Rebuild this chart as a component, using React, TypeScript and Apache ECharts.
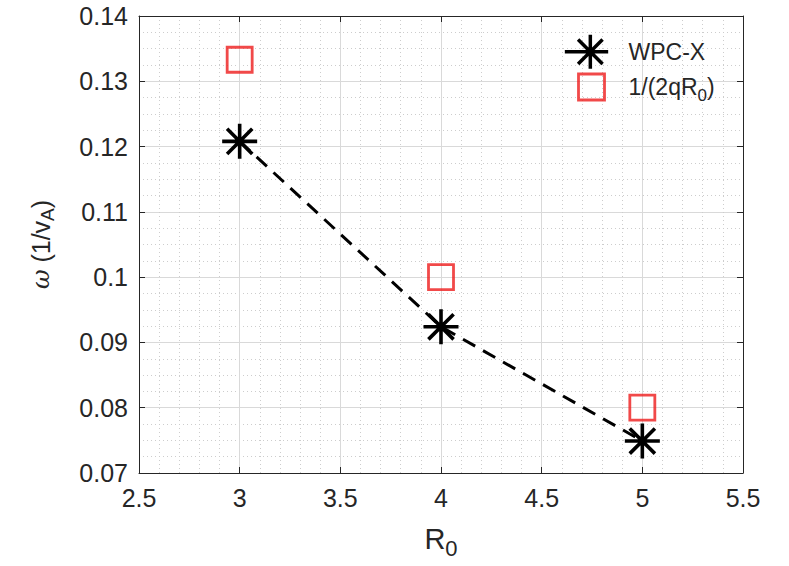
import React, { useEffect, useRef } from "react";
import * as echarts from "echarts";

const rValues = [3, 4, 5];
const wpcX = [0.1208, 0.0924, 0.0749];
const estimate = [0.1333, 0.1, 0.08];
const xTicks = [2.5, 5.5, 0.5];
const yTicks = [0.07, 0.14, 0.01];

const ASTER = "path://M0 -1 L0 1 M-1 0 L1 0 M-0.72 -0.72 L0.72 0.72 M-0.72 0.72 L0.72 -0.72";
const LEG_ASTER = "path://M-1.5 0 L1.05 0 M0 -1 L0 1 M-0.72 -0.72 L0.72 0.72 M-0.72 0.72 L0.72 -0.72";
const LEG_SQ = "path://M-28 -17 M18 17 M-13 -13 L13 -13 L13 13 L-13 13 Z";

const FONT = "'Liberation Sans', Arial, Helvetica, sans-serif";
const AX = "#262626";
const MAJ = "#d9d9d9";
const MIN = "#cdcdcd";

export default function App() {
  const ref = useRef<HTMLDivElement>(null);
  useEffect(() => {
    document.body.style.margin = "0";
    const chart = echarts.init(ref.current!, null, { renderer: "svg" });
    const axCommon = {
      axisLine: { show: true, onZero: false, lineStyle: { color: AX, width: 1 } },
      axisTick: { show: true, inside: true, length: 6, lineStyle: { color: AX } },
      minorSplitLine: { show: true, lineStyle: { color: MIN, type: [1, 3], width: 1 } },
      splitLine: { show: true, lineStyle: { color: MAJ, width: 1 } },
    };
    chart.setOption({
      animation: false,
      backgroundColor: "#fff",
      grid: { left: 139, right: 46, top: 16, bottom: 93, containLabel: false },
      legend: {
        left: 556,
        top: 28,
        orient: "vertical",
        itemWidth: 46,
        itemHeight: 34,
        itemGap: -3,
        textStyle: {
          fontFamily: FONT,
          fontSize: 23,
          lineHeight: 34,
          color: AX,
          padding: [0, 0, 0, 14],
          rich: {
            sub: { fontFamily: FONT, fontSize: 17, lineHeight: 34, color: AX, verticalAlign: "bottom", padding: [12, 0, 0, 0] },
          },
        },
        formatter: (n: string) => (n === "1/(2qR0)" ? "1/(2qR{sub|0})" : n),
        data: [
          { name: "WPC-X", icon: LEG_ASTER, itemStyle: { color: "#000", borderColor: "#000", borderWidth: 3.5 } },
          { name: "1/(2qR0)", icon: LEG_SQ, itemStyle: { color: "none", borderColor: "#ee1c1c", borderWidth: 2.8 } },
        ],
      },
      xAxis: [
        {
          type: "value",
          min: xTicks[0],
          max: xTicks[1],
          interval: xTicks[2],
          ...axCommon,
          minorTick: { show: false, splitNumber: 5 },
          axisLabel: {
            fontFamily: FONT,
            fontSize: 25,
            color: AX,
            margin: 12,
            formatter: (v: number) => String(v),
          },
          name: "R{sub|0}",
          nameLocation: "middle",
          nameGap: 46,
          nameTextStyle: {
            fontFamily: FONT,
            fontSize: 29,
            color: AX,
            rich: { sub: { fontFamily: FONT, fontSize: 22, color: AX, verticalAlign: "bottom", padding: [18, 0, 0, 0] } },
          },
        },
        {
          type: "value",
          position: "top",
          min: xTicks[0],
          max: xTicks[1],
          interval: xTicks[2],
          axisLine: { show: true, lineStyle: { color: AX, width: 1 } },
          axisTick: { show: true, inside: true, length: 6, lineStyle: { color: AX } },
          axisLabel: { show: false },
          splitLine: { show: false },
        },
      ],
      yAxis: [
        {
          type: "value",
          min: yTicks[0],
          max: yTicks[1],
          interval: yTicks[2],
          ...axCommon,
          minorTick: { show: false, splitNumber: 4 },
          axisLabel: {
            fontFamily: FONT,
            fontSize: 25,
            color: AX,
            margin: 11,
            formatter: (v: number) => String(parseFloat(v.toFixed(3))),
          },
          name: "{w|ω} (1/v{sub|A})",
          nameLocation: "middle",
          nameGap: 82,
          nameRotate: 90,
          nameTextStyle: {
            fontFamily: FONT,
            fontSize: 25,
            color: AX,
            rich: {
              w: { fontFamily: "'DejaVu Serif', 'Liberation Serif', serif", fontStyle: "italic", fontSize: 24, color: AX },
              sub: { fontFamily: FONT, fontSize: 19, color: AX, verticalAlign: "bottom", padding: [14, 0, 0, 0] },
            },
          },
        },
        {
          type: "value",
          position: "right",
          min: yTicks[0],
          max: yTicks[1],
          interval: yTicks[2],
          axisLine: { show: true, lineStyle: { color: AX, width: 1 } },
          axisTick: { show: true, inside: true, length: 6, lineStyle: { color: AX } },
          axisLabel: { show: false },
          splitLine: { show: false },
        },
      ],
      series: [
        {
          name: "WPC-X",
          type: "line",
          data: rValues.map((r, i) => [r, wpcX[i]]),
          symbol: ASTER,
          symbolSize: 35,
          symbolKeepAspect: true,
          showSymbol: true,
          itemStyle: { color: "#000", borderColor: "#000", borderWidth: 3.6 },
          lineStyle: { color: "#000", width: 3, type: [14, 9] },
          z: 3,
        },
        {
          name: "1/(2qR0)",
          type: "scatter",
          data: rValues.map((r, i) => [r, estimate[i]]),
          symbol: "rect",
          symbolSize: 25,
          itemStyle: { color: "rgba(0,0,0,0)", borderColor: "#ee1c1c", borderWidth: 2.8 },
          z: 4,
        },
      ],
    });
    return () => chart.dispose();
  }, []);
  return <div ref={ref} style={{ width: 789, height: 566 }} />;
}
